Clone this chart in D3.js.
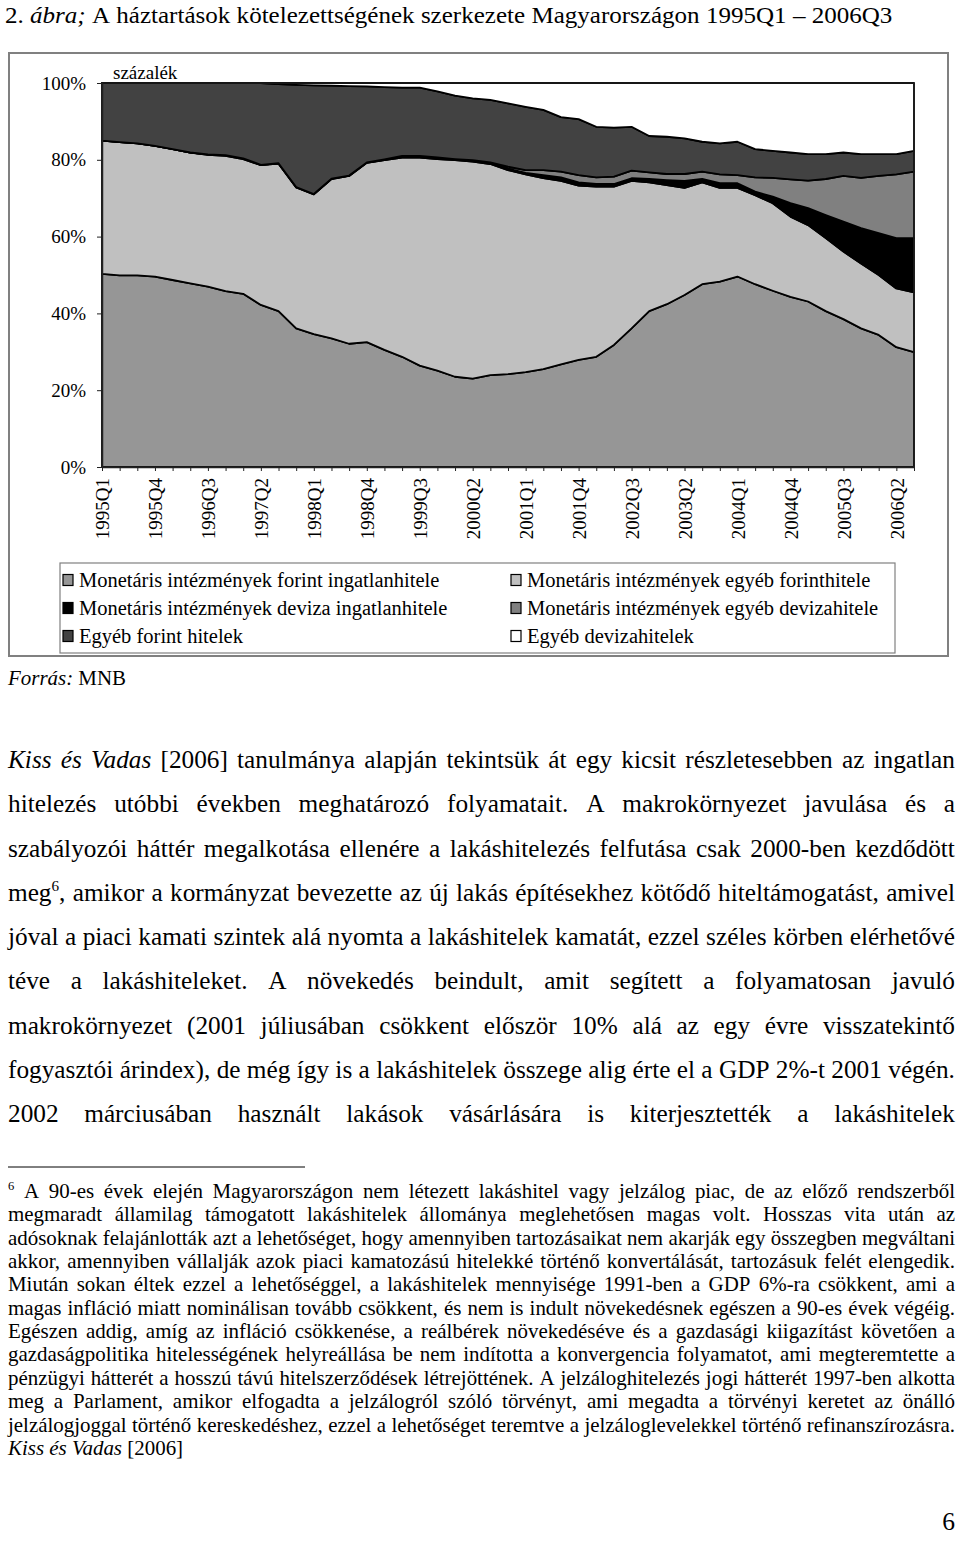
<!DOCTYPE html>
<html><head><meta charset="utf-8">
<script src="https://cdn.jsdelivr.net/npm/d3@7"></script>
<style>
html,body{margin:0;padding:0;background:#fff;}
svg{display:block;}
</style>
</head><body>
<svg id="c" width="960" height="1541" font-family="Liberation Serif"></svg>
<script>
// ---------- DATA ----------
const quarters = ["1995Q1","1995Q2","1995Q3","1995Q4","1996Q1","1996Q2","1996Q3","1996Q4",
  "1997Q1","1997Q2","1997Q3","1997Q4","1998Q1","1998Q2","1998Q3","1998Q4",
  "1999Q1","1999Q2","1999Q3","1999Q4","2000Q1","2000Q2","2000Q3","2000Q4",
  "2001Q1","2001Q2","2001Q3","2001Q4","2002Q1","2002Q2","2002Q3","2002Q4",
  "2003Q1","2003Q2","2003Q3","2003Q4","2004Q1","2004Q2","2004Q3","2004Q4",
  "2005Q1","2005Q2","2005Q3","2005Q4","2006Q1","2006Q2","2006Q3"];
const tickLabels = ["1995Q1","1995Q4","1996Q3","1997Q2","1998Q1","1998Q4","1999Q3","2000Q2",
  "2001Q1","2001Q4","2002Q3","2003Q2","2004Q1","2004Q4","2005Q3","2006Q2"];
const yTicks = [0,20,40,60,80,100];

// shares in percent, bottom to top of the stack
const forintIngatlan = [50.3,49.9,49.9,49.6,48.7,47.8,47.0,45.8,45.1,42.2,40.6,36.1,34.6,33.5,32.1,32.5,30.5,28.7,26.4,25.1,23.5,23.0,23.9,24.2,24.7,25.5,26.7,27.9,28.7,31.8,36.1,40.6,42.4,44.8,47.6,48.3,49.6,47.6,45.9,44.3,43.1,40.6,38.5,36.1,34.4,31.2,29.9];
const egyebForint = [34.7,34.7,34.4,34.0,34.1,34.1,34.3,35.2,35.1,36.4,38.4,36.7,36.4,41.5,43.7,46.7,49.4,51.9,54.2,55.1,56.4,56.5,55.0,53.1,51.5,49.7,47.8,45.4,44.3,41.2,38.4,33.5,31.0,27.9,26.5,24.4,23.1,23.2,22.8,20.9,19.9,19.0,17.6,16.9,15.6,15.3,15.6];
const devizaIngatlan = [0,0,0,0,0,0,0.1,0.2,0.2,0.1,0.1,0.1,0.1,0.1,0.1,0.1,0.1,0.2,0.2,0.2,0.2,0.2,0.2,0.4,0.4,0.8,0.9,0.8,0.7,0.7,0.7,0.9,1.3,1.8,0.9,1.2,1.2,0.9,1.7,3.5,4.4,6.0,7.8,9.2,10.9,13.1,14.1];
const egyebDeviza = [0,0,0,0,0,0,0,0,0,0,0,0,0,0,0,0,0.1,0.2,0.2,0.2,0.1,0.2,0.2,0.5,0.7,1.3,1.5,1.9,1.7,1.9,2.0,1.7,1.6,1.8,1.9,2.3,2.1,3.7,4.9,6.2,7.2,9.4,11.9,13.1,14.9,16.6,17.3];
const egyebForintHitelek = [15.0,15.4,15.7,16.4,17.2,18.1,18.6,18.8,19.6,21.3,20.6,26.6,28.3,24.2,23.3,19.8,18.8,17.8,17.8,17.2,16.5,16.1,16.3,16.5,16.5,15.7,14.2,14.6,13.2,12.8,11.4,9.5,9.7,9.3,7.8,8.1,8.7,7.4,7.0,7.0,6.9,6.5,6.1,6.2,5.7,5.3,5.4];
const egyebDevizahitelek = [0,0,0,0,0,0,0,0,0,0,0.3,0.5,0.6,0.7,0.8,0.9,1.1,1.2,1.2,2.2,3.3,4.0,4.4,5.3,6.2,7.0,8.9,9.4,11.4,11.6,11.4,13.8,14.0,14.4,15.3,15.7,15.3,17.2,17.7,18.1,18.5,18.5,18.1,18.5,18.5,18.5,17.7];

const seriesNames = ["Monetáris intézmények forint ingatlanhitele","Monetáris intézmények egyéb forinthitele",
  "Monetáris intézmények deviza ingatlanhitele","Monetáris intézmények egyéb devizahitele",
  "Egyéb forint hitelek","Egyéb devizahitelek"];
const seriesColors = ["#969696","#c0c0c0","#000000","#808080","#424242","#ffffff"];

// ---------- TABLE ----------
const seriesArrays = [forintIngatlan, egyebForint, devizaIngatlan, egyebDeviza, egyebForintHitelek, egyebDevizahitelek];
const table = quarters.map((q,i)=>{ const o={q}; seriesNames.forEach((n,j)=>o[n]=seriesArrays[j][i]); return o; });

const FONT = "Liberation Serif";
const svg = d3.select("#c");
svg.append("rect").attr("width",960).attr("height",1541).attr("fill","#fff");

// ---------- CHART ----------
const plot = {l:102, r:914, t:83, b:467};
const x = d3.scalePoint().domain(quarters).range([plot.l, plot.r]).padding(0);
const y = d3.scaleLinear().domain([0,100]).range([plot.b, plot.t]);

svg.append("rect").attr("x",9).attr("y",53).attr("width",939).attr("height",603)
  .attr("fill","none").attr("stroke","#808080").attr("stroke-width",2);

const stack = d3.stack().keys(seriesNames).offset(d3.stackOffsetNone);
const layers = stack(table);
const area = d3.area().x(d=>x(d.data.q)).y0(d=>y(d[0])).y1(d=>y(d[1]));
svg.append("g").selectAll("path").data(layers).join("path")
  .attr("d",area).attr("fill",(d,i)=>seriesColors[i])
  .attr("stroke","#000").attr("stroke-width",1.8).attr("stroke-linejoin","round");

svg.append("rect").attr("x",plot.l).attr("y",plot.t).attr("width",plot.r-plot.l).attr("height",plot.b-plot.t)
  .attr("fill","none").attr("stroke","#222").attr("stroke-width",1.3);

const CH_FS = 19;
const xAxis = svg.append("g").attr("transform",`translate(0,${plot.b})`)
  .call(d3.axisBottom(x).tickValues(quarters).tickSize(4).tickSizeOuter(0)
    .tickFormat(d=>tickLabels.includes(d)?d:""));
xAxis.attr("font-family",FONT);
xAxis.select(".domain").attr("stroke","#222").attr("stroke-width",1.5);
xAxis.selectAll(".tick line").attr("stroke","#222");
xAxis.selectAll(".tick text").attr("transform","rotate(-90)").attr("text-anchor","end")
  .attr("x",-11).attr("y",0).attr("dy","0.35em").attr("font-size",CH_FS)
  .attr("font-family",FONT).attr("fill","#000");

const yAxis = svg.append("g").attr("transform",`translate(${plot.l},0)`)
  .call(d3.axisLeft(y).tickValues(yTicks).tickSize(5).tickSizeOuter(0).tickPadding(11).tickFormat(d=>d+"%"));
yAxis.attr("font-family",FONT);
yAxis.select(".domain").attr("stroke","#222").attr("stroke-width",1.5);
yAxis.selectAll(".tick line").attr("stroke","#222");
yAxis.selectAll(".tick text").attr("font-size",CH_FS).attr("font-family",FONT).attr("fill","#000");

svg.append("text").attr("x",113).attr("y",79).attr("font-size",CH_FS).attr("font-family",FONT).text("százalék");

// legend
const LEG_FS = 20.5;
svg.append("rect").attr("x",60).attr("y",563).attr("width",835).attr("height",90)
  .attr("fill","#fff").attr("stroke","#808080").attr("stroke-width",1.2);
const legRows = [580,608,636];
const legCols = [63,511];
seriesNames.forEach((n,i)=>{
  const cx = legCols[i%2], cy = legRows[Math.floor(i/2)];
  svg.append("rect").attr("x",cx).attr("y",cy-5.5).attr("width",10).attr("height",11)
    .attr("fill",seriesColors[i]).attr("stroke","#000").attr("stroke-width",1.2);
  svg.append("text").attr("x",cx+16).attr("y",cy).attr("dy","0.35em").attr("font-size",LEG_FS)
    .attr("font-family",FONT).text(n);
});

// ---------- TEXT LAYOUT ----------
function parseWord(w){
  const segs=[]; let it=false, sup=false, cur="";
  for(const ch of w){
    if(ch==="*"||ch==="^"){ if(cur) segs.push({t:cur,it,sup}); cur=""; if(ch==="*") it=!it; else sup=!sup; }
    else cur+=ch;
  }
  if(cur) segs.push({t:cur,it,sup});
  return segs;
}
function addWord(parent,w,fs){
  const t=parent.append("text").attr("font-size",fs).attr("font-family",FONT);
  let shifted=false;
  parseWord(w).forEach(s=>{
    const ts=t.append("tspan").text(s.t).attr("font-style",s.it?"italic":"normal");
    if(s.sup){ ts.attr("font-size",fs*0.6); if(!shifted){ ts.attr("dy",-fs*0.4); shifted=true; } }
    else if(shifted){ ts.attr("dy",fs*0.4); shifted=false; }
  });
  return t;
}
function textBlock(lines,opt){
  const g=svg.append("g");
  const W=opt.x1-opt.x0, sp=opt.fs*0.25;
  const m=lines.map(line=>{
    const words=line.split(" ");
    const lg=g.append("g");
    const nodes=words.map(w=>addWord(lg,w,opt.fs));
    const widths=nodes.map(n=>n.node().getComputedTextLength());
    return {words,lg,nodes,widths};
  });
  let k=opt.k;
  if(k==null){
    k=d3.min(m.filter((d,i)=>opt.justify(i)), d=>W/(d3.sum(d.widths)+sp*(d.words.length-1)));
  }
  m.forEach((d,i)=>{
    const yy=opt.y0+i*opt.lh;
    d.lg.attr("transform",`translate(${opt.x0},${yy}) scale(${k},1)`);
    const sum=d3.sum(d.widths);
    const gap=(opt.justify(i)&&d.words.length>1)?(W/k-sum)/(d.words.length-1):sp;
    let xx=0;
    d.nodes.forEach((n,j)=>{ n.attr("x",xx); xx+=d.widths[j]+gap; });
  });
  return k;
}

const bodyLines = [
  "*Kiss* *és* *Vadas* [2006] tanulmánya alapján tekintsük át egy kicsit részletesebben az ingatlan",
  "hitelezés utóbbi években meghatározó folyamatait. A makrokörnyezet javulása és a",
  "szabályozói háttér megalkotása ellenére a lakáshitelezés felfutása csak 2000-ben kezdődött",
  "meg^6^, amikor a kormányzat bevezette az új lakás építésekhez kötődő hiteltámogatást, amivel",
  "jóval a piaci kamati szintek alá nyomta a lakáshitelek kamatát, ezzel széles körben elérhetővé",
  "téve a lakáshiteleket. A növekedés beindult, amit segített a folyamatosan javuló",
  "makrokörnyezet (2001 júliusában csökkent először 10% alá az egy évre visszatekintő",
  "fogyasztói árindex), de még így is a lakáshitelek összege alig érte el a GDP 2%-t 2001 végén.",
  "2002 márciusában használt lakások vásárlására is kiterjesztették a lakáshitelek"
];
const footLines = [
  "^6^ A 90-es évek elején Magyarországon nem létezett lakáshitel vagy jelzálog piac, de az előző rendszerből",
  "megmaradt államilag támogatott lakáshitelek állománya meglehetősen magas volt. Hosszas vita után az",
  "adósoknak felajánlották azt a lehetőséget, hogy amennyiben tartozásaikat nem akarják egy összegben megváltani",
  "akkor, amennyiben vállalják azok piaci kamatozású hitelekké történő konvertálását, tartozásuk felét elengedik.",
  "Miután sokan éltek ezzel a lehetőséggel, a lakáshitelek mennyisége 1991-ben a GDP 6%-ra csökkent, ami a",
  "magas infláció miatt nominálisan tovább csökkent, és nem is indult növekedésnek egészen a 90-es évek végéig.",
  "Egészen addig, amíg az infláció csökkenése, a reálbérek növekedéséve és a gazdasági kiigazítást követően a",
  "gazdaságpolitika hitelességének helyreállása be nem indította a konvergencia folyamatot, ami megteremtette a",
  "pénzügyi hátterét a hosszú távú hitelszerződések létrejöttének. A jelzáloghitelezés jogi hátterét 1997-ben alkotta",
  "meg a Parlament, amikor elfogadta a jelzálogról szóló törvényt, ami megadta a törvényi keretet az önálló",
  "jelzálogjoggal történő kereskedéshez, ezzel a lehetőséget teremtve a jelzáloglevelekkel történő refinanszírozásra.",
  "*Kiss* *és* *Vadas* [2006]"
];

const BODY_FS = 25.5, FOOT_FS = 20.3, TITLE_FS = 23;
const kBody = textBlock(bodyLines,{x0:8,x1:955,y0:768,lh:44.25,fs:BODY_FS,justify:()=>true});
const kFoot = textBlock(footLines,{x0:8,x1:955,y0:1198,lh:23.35,fs:FOOT_FS,justify:i=>i<footLines.length-1});
textBlock(["2. *ábra;* A háztartások kötelezettségének szerkezete Magyarországon 1995Q1 – 2006Q3"],
  {x0:5,x1:955,y0:23,lh:0,fs:TITLE_FS,k:kBody*BODY_FS/TITLE_FS*0.99,justify:()=>false});
textBlock(["*Forrás:* MNB"],{x0:8,x1:300,y0:685,lh:0,fs:FOOT_FS,k:kFoot,justify:()=>false});

svg.append("line").attr("x1",8).attr("x2",305).attr("y1",1167).attr("y2",1167)
  .attr("stroke","#000").attr("stroke-width",1);
svg.append("text").attr("x",955).attr("y",1530).attr("text-anchor","end").attr("font-size",BODY_FS)
  .attr("font-family",FONT).text("6");
</script>
</body></html>
